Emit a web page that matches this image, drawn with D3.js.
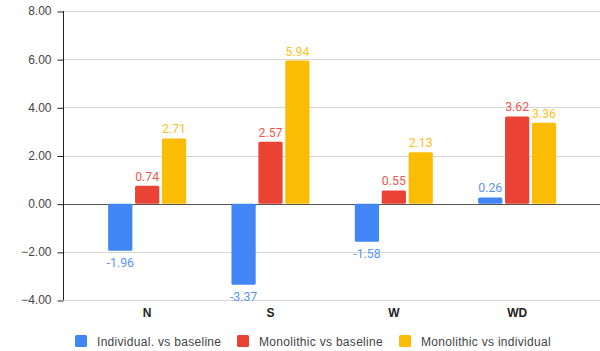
<!DOCTYPE html>
<html>
<head>
<meta charset="utf-8">
<script src="https://cdn.jsdelivr.net/npm/d3@7"></script>
<style>
  html, body { margin: 0; padding: 0; background: #fff; }
  svg { display: block; font-family: Roboto, Arial, sans-serif; }
</style>
</head>
<body>
<svg id="chart" width="600" height="351"></svg>
<script>
const categories = ["N", "S", "W", "WD"];
const seriesNames = ["Individual. vs baseline", "Monolithic vs baseline", "Monolithic vs individual"];
const individualVsBaseline = [-1.96, -3.37, -1.58, 0.26];
const monolithicVsBaseline = [0.74, 2.57, 0.55, 3.62];
const monolithicVsIndividual = [2.71, 5.94, 2.13, 3.36];
const yTicks = [-4, -2, 0, 2, 4, 6, 8];
const colors = ["#4285F4", "#EA4335", "#FBBC04"];
const labelColors = ["#5b95f5", "#ee5a4f", "#fbc227"];
const sansFont = "'Liberation Sans', Arial, sans-serif";

const seriesValues = [individualVsBaseline, monolithicVsBaseline, monolithicVsIndividual];

const svg = d3.select("#chart");
const axisX = 63;

const y = d3.scaleLinear().domain([-4, 8]).range([300, 11]);
const x = d3.scaleBand().domain(categories).range([85.5, 578.8]).paddingInner(0).paddingOuter(0);
const groupWidth = 78;
const xs = d3.scaleBand().domain(d3.range(seriesNames.length)).range([0, groupWidth]).paddingInner(0.1);

// gridlines
svg.append("g").selectAll("line").data(yTicks).join("line")
  .attr("x1", axisX).attr("x2", 600)
  .attr("y1", d => Math.round(y(d)) + 0.5).attr("y2", d => Math.round(y(d)) + 0.5)
  .attr("stroke", d => d === 0 ? "#555" : "#d6d6d6")
  .attr("stroke-width", 1);

// y axis
const yAxis = d3.axisLeft(y).tickValues(yTicks).tickFormat(d3.format(".2f")).tickSize(6).tickPadding(6);
const gy = svg.append("g").attr("transform", `translate(${axisX + 0.5},0)`).call(yAxis);
gy.select(".domain").attr("stroke", "#222").attr("d", `M0,${y(8)}V${y(-4)}`);
gy.selectAll(".tick line").attr("stroke", "#222").attr("transform", "translate(0,0.5)");
gy.selectAll(".tick text").attr("fill", "#444").attr("font-size", 12).attr("font-family", sansFont);

// bars and value labels
const groups = svg.append("g").selectAll("g").data(categories).join("g")
  .attr("transform", d => `translate(${x(d) + x.bandwidth() / 2 - groupWidth / 2},0)`);

groups.each(function(cat, ci) {
  const g = d3.select(this);
  seriesValues.forEach((vals, si) => {
    const v = vals[ci];
    const y0 = y(0), y1 = y(v);
    g.append("rect")
      .attr("x", xs(si))
      .attr("width", xs.bandwidth())
      .attr("y", Math.min(y0, y1))
      .attr("height", Math.abs(y1 - y0))
      .attr("rx", 1.5)
      .attr("fill", colors[si]);
    g.append("text")
      .attr("x", xs(si) + xs.bandwidth() / 2)
      .attr("y", v >= 0 ? y1 - 5 : y1 + 16.5)
      .attr("text-anchor", "middle")
      .attr("font-size", 12.3)
      .attr("fill", labelColors[si])
      .text(v.toFixed(2));
  });
});

// category labels
svg.append("g").selectAll("text").data(categories).join("text")
  .attr("x", d => x(d) + x.bandwidth() / 2)
  .attr("y", 317)
  .attr("text-anchor", "middle")
  .attr("font-size", 12)
  .attr("font-weight", "bold")
  .attr("font-family", sansFont)
  .attr("fill", "#222")
  .text(d => d);

// legend
const legendX = [75, 237, 399];
const legend = svg.append("g").selectAll("g").data(seriesNames).join("g")
  .attr("transform", (d, i) => `translate(${legendX[i]},335)`);
legend.append("rect").attr("width", 12).attr("height", 12).attr("rx", 1.5)
  .attr("fill", (d, i) => colors[i]);
legend.append("text").attr("x", 22).attr("y", 10.5)
  .attr("font-size", 12).attr("font-family", sansFont).attr("fill", "#444")
  .attr("letter-spacing", 0.3)
  .text(d => d);
</script>
</body>
</html>
